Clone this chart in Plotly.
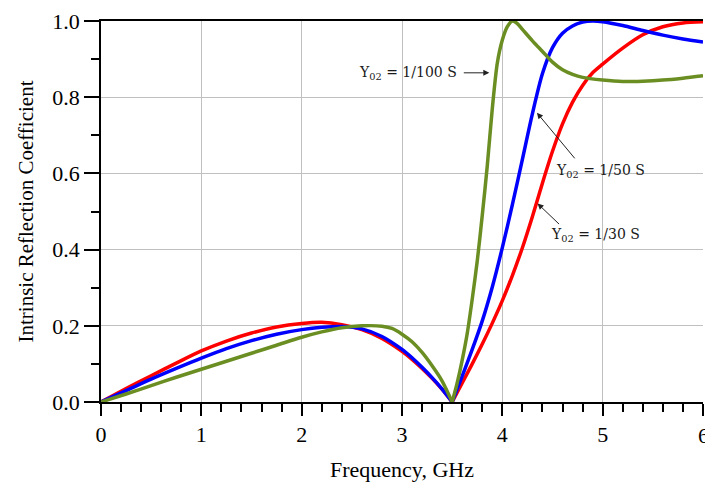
import plotly.graph_objects as go

# Frequency (GHz) and reflection coefficient for each Y02
x_30 = [0, 0.25, 0.5, 0.75, 1.0, 1.25, 1.5, 1.75, 2.0, 2.2, 2.4, 2.6, 2.8, 3.0, 3.1, 3.2, 3.3, 3.4, 3.5,
        3.6, 3.7, 3.8, 3.9, 4.0, 4.1, 4.2, 4.3, 4.4, 4.5, 4.6, 4.7, 4.8, 4.9, 5.0, 5.2, 5.4, 5.6, 5.8, 6.0]
y_30 = [0, 0.035, 0.069, 0.102, 0.134, 0.16, 0.181, 0.197, 0.206, 0.209, 0.203, 0.19, 0.167, 0.133, 0.112, 0.088, 0.062, 0.033, 0,
        0.05, 0.1, 0.152, 0.207, 0.266, 0.332, 0.405, 0.487, 0.575, 0.658, 0.73, 0.787, 0.831, 0.864, 0.887, 0.929, 0.964, 0.985, 0.995, 0.998]

x_50 = [0, 0.25, 0.5, 0.75, 1.0, 1.25, 1.5, 1.75, 2.0, 2.2, 2.4, 2.6, 2.8, 3.0, 3.1, 3.2, 3.3, 3.4, 3.5,
        3.6, 3.7, 3.8, 3.9, 4.0, 4.1, 4.2, 4.3, 4.4, 4.5, 4.6, 4.7, 4.8, 4.9, 5.0, 5.2, 5.4, 5.6, 5.8, 6.0]
y_50 = [0, 0.03, 0.06, 0.088, 0.115, 0.14, 0.161, 0.178, 0.19, 0.196, 0.198, 0.192, 0.172, 0.138, 0.116, 0.091, 0.064, 0.034, 0,
        0.068, 0.138, 0.213, 0.302, 0.405, 0.518, 0.637, 0.757, 0.862, 0.93, 0.968, 0.987, 0.997, 1.0, 0.998, 0.988, 0.975, 0.963, 0.953, 0.945]

x_100 = [0, 0.25, 0.5, 0.75, 1.0, 1.25, 1.5, 1.75, 2.0, 2.2, 2.4, 2.6, 2.8, 2.9, 3.0, 3.1, 3.2, 3.3, 3.4, 3.5,
         3.55, 3.6, 3.65, 3.7, 3.75, 3.8, 3.85, 3.9, 3.95, 4.0, 4.05, 4.1, 4.15, 4.2, 4.3, 4.4, 4.5, 4.6, 4.7, 4.8,
         5.0, 5.2, 5.4, 5.6, 5.8, 6.0]
y_100 = [0, 0.021, 0.043, 0.065, 0.086, 0.107, 0.128, 0.149, 0.17, 0.184, 0.195, 0.2, 0.199, 0.193, 0.178, 0.158, 0.13, 0.095, 0.055, 0,
         0.05, 0.11, 0.18, 0.27, 0.37, 0.49, 0.62, 0.77, 0.89, 0.95, 0.985, 1.0, 0.993, 0.978, 0.948, 0.92, 0.892, 0.872, 0.86, 0.852,
         0.845, 0.841, 0.842, 0.845, 0.85, 0.856]

x_ticks = [0, 1, 2, 3, 4, 5, 6]
y_ticks = [0.0, 0.2, 0.4, 0.6, 0.8, 1.0]
y_labels = ["0.0", "0.2", "0.4", "0.6", "0.8", "1.0"]

labels = ["Y<sub>02</sub> = 1/100 S", "Y<sub>02</sub> = 1/50 S", "Y<sub>02</sub> = 1/30 S"]
colors = ["#FF0000", "#0000FF", "#6B8E23"]
null_f = 3.5  # frequency of the reflection null

fig = go.Figure()
for xs, ys, c in [(x_30, y_30, colors[0]), (x_50, y_50, colors[1]), (x_100, y_100, colors[2])]:
    left = [(a, b) for a, b in zip(xs, ys) if a <= null_f]
    right = [(a, b) for a, b in zip(xs, ys) if a >= null_f]
    for seg in (left, right):
        fig.add_trace(go.Scatter(x=[p[0] for p in seg], y=[p[1] for p in seg], mode="lines",
                                 line=dict(color=c, width=3.5, shape="spline", smoothing=0.8),
                                 showlegend=False))

serif = "Liberation Serif"
ann_font = dict(family="DejaVu Serif", size=14, color="#1a1a1a")

# text labels
fig.add_annotation(x=3.055, y=0.864, text=labels[0], showarrow=False, font=ann_font)
fig.add_annotation(x=4.98, y=0.606, text=labels[1], showarrow=False, font=ann_font)
fig.add_annotation(x=4.93, y=0.438, text=labels[2], showarrow=False, font=ann_font)
# arrows
arrow_style = dict(text="", showarrow=True, arrowhead=2, arrowsize=1.2, arrowwidth=1, arrowcolor="#222222")
fig.add_annotation(x=3.87, y=0.864, ax=-27, ay=0, **arrow_style)
fig.add_annotation(x=4.345, y=0.759, ax=39, ay=47, **arrow_style)
fig.add_annotation(x=4.351, y=0.521, ax=23, ay=22, **arrow_style)
# last x tick label (cut by the figure edge, as in the reference)
fig.add_annotation(x=6, y=0, xref="x", yref="y", text="6", showarrow=False,
                   font=dict(family=serif, size=22, color="black"), yshift=-33, xanchor="center")

fig.update_layout(
    width=705, height=488,
    margin=dict(l=101, r=2, t=21, b=86),
    paper_bgcolor="white", plot_bgcolor="white",
    font=dict(family=serif, size=22, color="black"),
    xaxis=dict(
        range=[0, 6], tickvals=x_ticks, ticktext=[str(v) for v in x_ticks],
        showgrid=True, gridcolor="#C0C0C0", gridwidth=1,
        showline=True, linecolor="black", linewidth=1.5, mirror=True,
        ticks="outside", ticklen=12, tickwidth=1.5, tickcolor="black",
        minor=dict(dtick=0.2, ticks="outside", ticklen=8, tickwidth=1.5, tickcolor="black", showgrid=False),
        title=dict(text="Frequency, GHz", font=dict(family=serif, size=22), standoff=15),
        zeroline=False,
    ),
    yaxis=dict(
        range=[0, 1], tickvals=y_ticks, ticktext=y_labels,
        showgrid=True, gridcolor="#C0C0C0", gridwidth=1,
        showline=True, linecolor="black", linewidth=1.5,
        ticks="outside", ticklen=15, tickwidth=1.5, tickcolor="black",
        minor=dict(dtick=0.1, ticks="outside", ticklen=8, tickwidth=1.5, tickcolor="black", showgrid=False),
        title=dict(text="Intrinsic Reflection Coefficient", font=dict(family=serif, size=21), standoff=13),
        zeroline=False,
    ),
)

fig.write_html("out.html")
